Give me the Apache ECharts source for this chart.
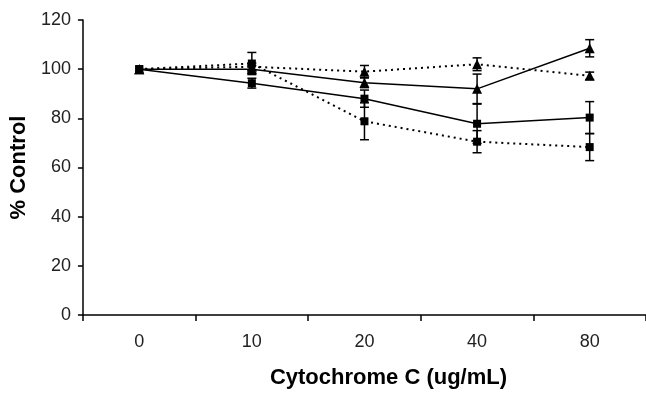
<!DOCTYPE html>
<html>
<head>
<meta charset="utf-8">
<script src="https://cdn.jsdelivr.net/npm/echarts@6/dist/echarts.min.js"></script>
<style>
  html, body { margin: 0; padding: 0; background: #fff; }
  #chart { width: 646px; height: 394px; }
</style>
</head>
<body>
<div id="chart"></div>
<script>
var categories = ['0', '10', '20', '40', '80'];

// solid lines
var solidTriangle = [100, 100, 94.5, 92, 108.5];
var solidTriangleErr = [0, 1.5, 2, 6, 3.5];
var solidSquare = [100, 94.3, 88, 77.8, 80.3];
var solidSquareErr = [0, 2, 3.5, 8, 6.5];
// dotted lines
var dottedSquare = [100, 102.3, 78.8, 70.5, 68.3];
var dottedSquareErr = [0, 4.5, 7.5, 4.5, 5.5];
var dottedTriangle = [100, 101, 99, 102, 97.3];
var dottedTriangleErr = [0, 1.5, 2.5, 2.6, 1.5];

var yTicks = [0, 20, 40, 60, 80, 100, 120];

function errData(vals, errs) {
    return vals.map(function (v, i) {
        return [i, v - errs[i], v + errs[i]];
    });
}

function errSeries(vals, errs) {
    return {
        type: 'custom',
        z: 1,
        silent: true,
        data: errData(vals, errs),
        renderItem: function (params, api) {
            if (api.value(2) - api.value(1) <= 0) return;
            var lo = api.coord([api.value(0), api.value(1)]);
            var hi = api.coord([api.value(0), api.value(2)]);
            var w = 4.5;
            var st = { stroke: '#000', lineWidth: 1.5 };
            return {
                type: 'group',
                children: [
                    { type: 'line', shape: { x1: lo[0], y1: lo[1], x2: hi[0], y2: hi[1] }, style: st },
                    { type: 'line', shape: { x1: lo[0] - w, y1: lo[1], x2: lo[0] + w, y2: lo[1] }, style: st },
                    { type: 'line', shape: { x1: hi[0] - w, y1: hi[1], x2: hi[0] + w, y2: hi[1] }, style: st }
                ]
            };
        }
    };
}

function lineSeries(vals, symbol, size, dotted) {
    return {
        type: 'line',
        z: 3,
        data: vals,
        symbol: symbol,
        symbolSize: size,
        showAllSymbol: true,
        itemStyle: { color: '#000' },
        lineStyle: dotted
            ? { color: '#000', width: 2, type: [2, 4] }
            : { color: '#000', width: 1.5 }
    };
}

var chart = echarts.init(document.getElementById('chart'));
chart.setOption({
    animation: false,
    backgroundColor: '#fff',
    grid: { left: 80, right: -8, top: 20, bottom: 70 },
    xAxis: {
        type: 'category',
        data: categories,
        boundaryGap: true,
        name: 'Cytochrome C (ug/mL)',
        nameLocation: 'middle',
        nameGap: 52,
        nameTextStyle: {
            fontFamily: 'Liberation Sans', fontWeight: 'bold', fontSize: 22, color: '#000',
            padding: [0, 0, 0, 48]
        },
        axisLine: { lineStyle: { color: '#000', width: 1.5 } },
        axisTick: { show: true, length: 6, lineStyle: { color: '#000', width: 1.5 } },
        axisLabel: { margin: 18, fontFamily: 'Liberation Sans', fontSize: 18, color: '#222' },
        splitLine: { show: false }
    },
    yAxis: {
        type: 'value',
        min: 0,
        max: 120,
        interval: 20,
        name: '% Control',
        nameLocation: 'middle',
        nameGap: 39,
        nameRotate: 90,
        nameTextStyle: { fontFamily: 'Liberation Sans', fontWeight: 'bold', fontSize: 22, color: '#000' },
        axisLine: { show: true, lineStyle: { color: '#000', width: 1.5 } },
        axisTick: { show: true, length: 5, lineStyle: { color: '#000', width: 1.5 } },
        axisLabel: {
            margin: 12, fontFamily: 'Liberation Sans', fontSize: 18, color: '#222',
            formatter: function (v) { return yTicks.indexOf(v) >= 0 ? String(v) : ''; }
        },
        splitLine: { show: false }
    },
    series: [
        errSeries(dottedSquare, dottedSquareErr),
        errSeries(dottedTriangle, dottedTriangleErr),
        errSeries(solidSquare, solidSquareErr),
        errSeries(solidTriangle, solidTriangleErr),
        lineSeries(dottedSquare, 'rect', 8, true),
        lineSeries(dottedTriangle, 'triangle', 10, true),
        lineSeries(solidSquare, 'rect', 8, false),
        lineSeries(solidTriangle, 'triangle', 10, false)
    ]
});
</script>
</body>
</html>
